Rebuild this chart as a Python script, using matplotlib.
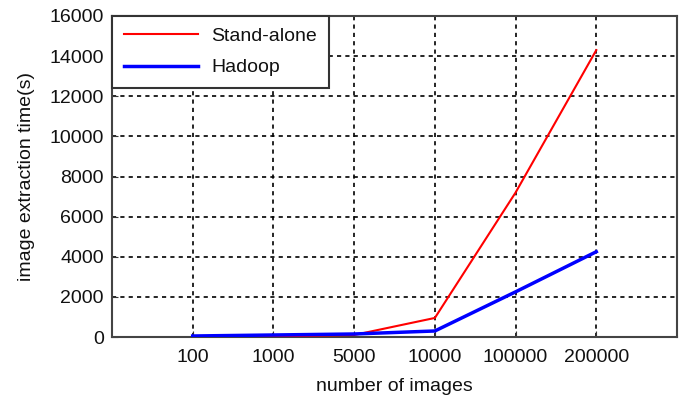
import matplotlib
matplotlib.use("Agg")
import matplotlib.pyplot as plt

categories = ["100", "1000", "5000", "10000", "100000", "200000"]
standalone = [10, 30, 100, 950, 7200, 14300]
hadoop = [50, 100, 150, 300, 2250, 4250]
yticks = [0, 2000, 4000, 6000, 8000, 10000, 12000, 14000, 16000]

plt.rcParams['font.family'] = ['Liberation Sans', 'DejaVu Sans']

fig = plt.figure(figsize=(6.89, 4.01), dpi=100)
ax = fig.add_axes([112/689, 1-337/401, (677-112)/689, (337-16)/401])

x = list(range(1, len(categories)+1))
ax.plot(x, standalone, color='#ff0000', lw=1.5, label='Stand-alone', zorder=3)
ax.plot(x, hadoop, color='#0000ff', lw=2.5, label='Hadoop', zorder=4)

ax.set_xlim(0, 7)
ax.set_ylim(0, 16000)
ax.set_xticks(x)
ax.set_xticklabels(categories)
ax.set_yticks(yticks)
ax.tick_params(direction='in', labelsize=14, length=4, colors='#333333', labelcolor='#111111')
ax.tick_params(axis='x', pad=9)
ax.tick_params(axis='y', pad=6)
ax.grid(True, color='black', linestyle=(0, (2.5, 2.5)), lw=1.2)
for s in ax.spines.values():
    s.set_color('#444444')
    s.set_linewidth(1.5)

ax.set_xlabel('number of images', fontsize=14, labelpad=8, color='#111111')
ax.set_ylabel('image extraction time(s)', fontsize=14, labelpad=10, color='#111111')

leg = ax.legend(loc='upper left', fontsize=14, fancybox=False, framealpha=1,
                edgecolor='#333333', borderaxespad=0, handlelength=3.8,
                borderpad=0.6, labelspacing=0.7, handletextpad=0.7)
leg.get_frame().set_linewidth(1.5)
for t in leg.get_texts():
    t.set_color('#111111')

fig.savefig('out.png', dpi=100)
